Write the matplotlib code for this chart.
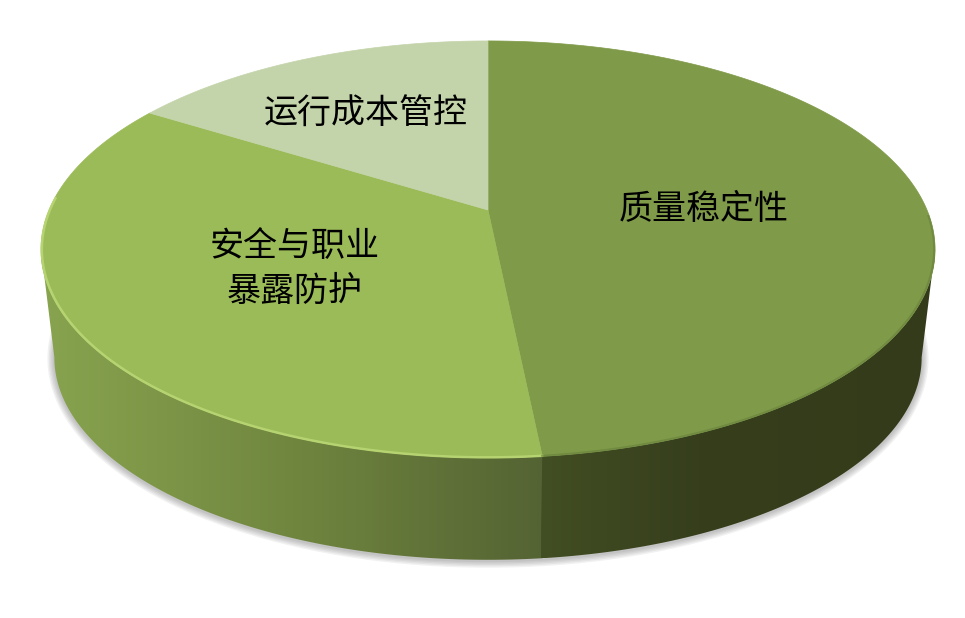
import numpy as np
import matplotlib
matplotlib.use('Agg')
import matplotlib.pyplot as plt
from matplotlib.colors import LinearSegmentedColormap
from matplotlib.patches import Polygon

plt.rcParams['font.family'] = ['Noto Sans CJK SC', 'DejaVu Sans']

# data
nomes = ['质量稳定性', '安全与职业\n暴露防护', '运行成本管控']
valores = [48.4, 35.5, 16.1]
cores_topo = ['#7f9a48', '#9bbb59', '#c4d4aa']

# geometry of the tilted disc, in image pixels
CX, CY = 488, 210
SX, SY = 439, 201
K = 0.189
ESCALA_BASE = 0.97
DESCE_BASE = 109.4


def projetar(ang, escala=1.0, desce=0.0):
    """Angle clockwise from 12 o'clock to pixel position, with perspective."""
    x = np.sin(ang)
    y = np.cos(ang)
    w = 1 + K * y
    return CX + escala * SX * x / w, CY + desce - escala * SY * y / w


def arco(a0, a1, escala=1.0, desce=0.0):
    return projetar(np.linspace(a0, a1, 300), escala, desce)


fig = plt.figure(figsize=(9.65, 6.18), dpi=100)
ax = fig.add_axes([0, 0, 1, 1])

limites = np.deg2rad(np.concatenate([[0], np.cumsum(valores) / np.sum(valores) * 360]))

# soft shadow below the base
bx, by = arco(np.pi * 0.5, np.pi * 1.5, ESCALA_BASE, DESCE_BASE + 1)
for lw in range(10, 0, -2):
    ax.plot(bx, by, color='#555555', lw=lw, alpha=0.08, zorder=1)

# side walls with horizontal gradient
mapas = [
    LinearSegmentedColormap.from_list('dir', [(0, '#424e23'), (0.4, '#363e1c'), (1, '#333b1a')]),
    LinearSegmentedColormap.from_list('esq', [(0, '#88a44f'), (0.5, '#70863f'), (1, '#546333')]),
]
gradiente = np.linspace(0, 1, 256).reshape(1, -1)
for i in [1, 0]:
    a0, a1 = limites[i], limites[i + 1]
    if i == 1:
        a0 -= 0.004  # overlap so no seam shows at the split
    tx, ty = arco(a0, a1)
    fx, fy = arco(a0, a1, ESCALA_BASE, DESCE_BASE)
    # keep the arcs only up to the widest point so the wall edge runs straight down
    if i == 1:
        corte_t, corte_f = np.argmin(tx), np.argmin(fx)
        tx, ty, fx, fy = tx[:corte_t + 1], ty[:corte_t + 1], fx[:corte_f + 1], fy[:corte_f + 1]
    else:
        corte_t, corte_f = np.argmax(tx), np.argmax(fx)
        tx, ty, fx, fy = tx[corte_t:], ty[corte_t:], fx[corte_f:], fy[corte_f:]
    xs = np.concatenate([tx, fx[::-1]])
    ys = np.concatenate([ty, fy[::-1]])
    lado = Polygon(np.column_stack([xs, ys]), closed=True, fc='none', ec='none', zorder=2)
    ax.add_patch(lado)
    im = ax.imshow(gradiente, cmap=mapas[i], aspect='auto', zorder=2,
                   extent=[xs.min(), xs.max(), ys.max(), ys.min()])
    im.set_clip_path(lado)

# top face
for i, cor in enumerate(cores_topo):
    ax_, ay_ = arco(limites[i], limites[i + 1])
    ax.fill(np.r_[CX, ax_], np.r_[CY, ay_], color=cor, lw=0.5, zorder=3)

# bevel along the near edge
rx, ry = arco(limites[1], limites[2] - 0.5, 0.998)
ax.plot(rx, ry, color='#bfdc78', lw=1.8, alpha=0.75, zorder=4)
rx, ry = arco(limites[0] + 1.6, limites[1], 0.998)
ax.plot(rx, ry, color='#66803a', lw=1.5, alpha=0.6, zorder=4)

# labels
posicoes = [(704, 209), (295, 269), (366, 114)]
for nome, (px, py) in zip(nomes, posicoes):
    ax.text(px, py, nome, ha='center', va='center', fontsize=24.5, color='black',
            linespacing=1.4, zorder=5)

ax.set_xlim(0, 965)
ax.set_ylim(618, 0)
ax.axis('off')
fig.savefig('out.png', dpi=100, facecolor='white')
